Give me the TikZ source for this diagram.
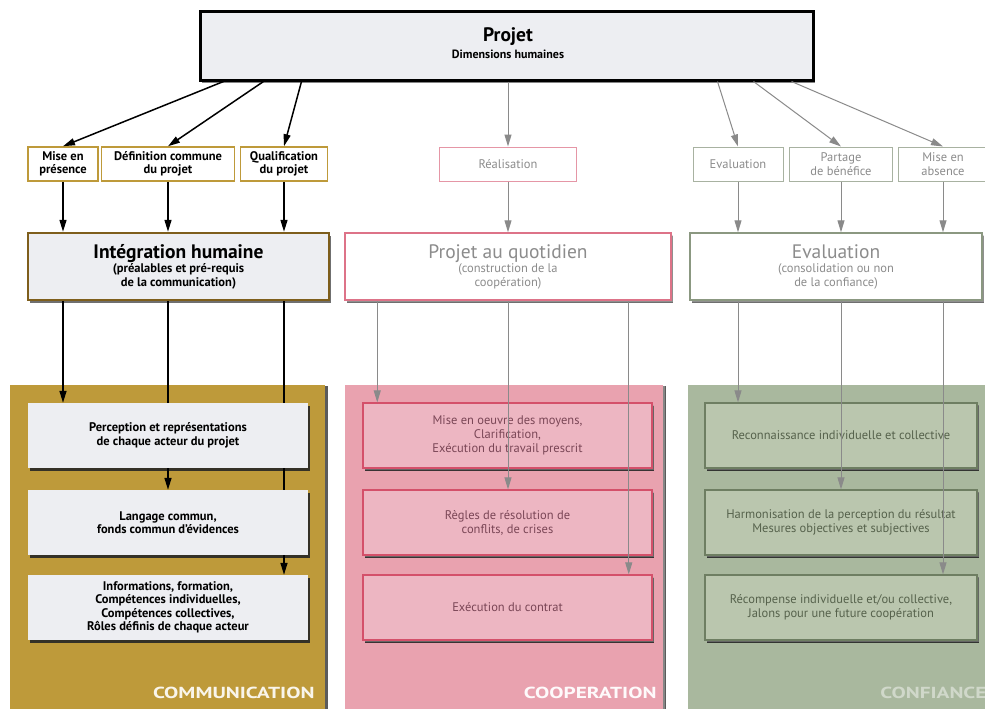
\documentclass[tikz,border=0pt]{standalone}
\usepackage{fontspec}
\setmainfont{PT Sans}
\usetikzlibrary{shadows,arrows.meta}
\definecolor{paper}{HTML}{EDEEF2}
\definecolor{comm}{HTML}{BE9A3A}
\definecolor{commdark}{HTML}{7E5E1C}
\definecolor{coop}{HTML}{E9A2AF}
\definecolor{coopbox}{HTML}{EDB6C2}
\definecolor{coopline}{HTML}{D4506A}
\definecolor{cooptext}{HTML}{7A4656}
\definecolor{conf}{HTML}{A9B89E}
\definecolor{confbox}{HTML}{BAC6AE}
\definecolor{confline}{HTML}{6E7E62}
\definecolor{conftext}{HTML}{56624C}
\definecolor{greytext}{HTML}{8C8C8C}
\definecolor{greyline}{HTML}{8A8A8A}
\tikzset{
  topbox/.style={draw=black, line width=3pt, fill=paper, inner sep=0pt,
    drop shadow={shadow xshift=2pt, shadow yshift=-3pt, fill=black!60, opacity=0.8}},
  smallc/.style={draw=comm, line width=1.5pt, fill=white, inner sep=0pt, align=center,
    minimum height=34pt, font=\bfseries\fontsize{12.5}{13.5}\selectfont},
  smallr/.style={smallc, draw=coopline!60, line width=1pt, text=greytext,
    font=\fontsize{12.5}{13.5}\selectfont},
  smallg/.style={smallr, draw=confline!60},
  bigc/.style={draw=commdark, line width=2.5pt, fill=paper, inner sep=0pt, align=center,
    minimum height=67pt, font=\bfseries\fontsize{12.5}{14}\selectfont,
    drop shadow={shadow xshift=2pt, shadow yshift=-3pt, fill=black!70, opacity=0.8}},
  bigr/.style={bigc, draw=coopline!80, line width=1.5pt, fill=white, text=greytext,
    font=\fontsize{12.5}{14}\selectfont,
    drop shadow={shadow xshift=1.5pt, shadow yshift=-2pt, fill=black!30, opacity=0.5}},
  bigg/.style={bigr, draw=confline!80},
  panelc/.style={fill=comm, inner sep=0pt,
    drop shadow={shadow xshift=3pt, shadow yshift=-1pt, fill=black!80, opacity=0.8}},
  panelr/.style={panelc, fill=coop,
    drop shadow={shadow xshift=2pt, shadow yshift=-1pt, fill=black!30, opacity=0.5}},
  panelg/.style={panelr, fill=conf},
  innerc/.style={fill=paper, inner sep=0pt, align=center, minimum height=65pt,
    font=\bfseries\fontsize{12.5}{13.5}\selectfont,
    drop shadow={shadow xshift=2pt, shadow yshift=-3pt, fill=black!85, opacity=0.9}},
  innerr/.style={innerc, fill=coopbox, draw=coopline, line width=1.2pt, text=cooptext,
    font=\fontsize{12.5}{14}\selectfont,
    drop shadow={shadow xshift=2pt, shadow yshift=-2pt, fill=black!40, opacity=0.5}},
  innerg/.style={innerr, fill=confbox, draw=confline, text=conftext,
    drop shadow={shadow xshift=2pt, shadow yshift=-2pt, fill=black!60, opacity=0.7}},
  paneltext/.style={anchor=base east, font=\bfseries\fontsize{16}{18}\selectfont},
  blackarrow/.style={draw=black, line width=1.5pt, -{Triangle[length=12pt,width=7pt]}},
  greyarrow/.style={draw=greyline, line width=1pt, -{Triangle[length=12pt,width=7pt]}},
  blackline/.style={draw=black, line width=1.5pt}
}
\newcommand{\bigtitle}[1]{{\fontsize{19.5}{20}\selectfont #1}}
\newcommand{\widecaps}[1]{\scalebox{1.33}[1]{#1}}
\begin{document}
\begin{tikzpicture}[x=1pt, y=-1pt]
  \useasboundingbox (0,0) rectangle (985,709);
  \clip (0,0) rectangle (985,709);
  \fill[white] (0,0) rectangle (985,709);

  % top and second rows
  \node[topbox, minimum width=613pt, minimum height=68pt] (projet) at (506.5,46) {};
  \node[font=\bfseries\fontsize{19.5}{20}\selectfont] (projettitle) at (508,37) {Projet};
  \node[font=\bfseries\fontsize{12}{13}\selectfont] (projetsub) at (508,54) {Dimensions humaines};

  \node[smallc, minimum width=70pt] (mise) at (63,164) {Mise en\\présence};
  \node[smallc, minimum width=133pt] (defin) at (168,164) {Définition commune\\du projet};
  \node[smallc, minimum width=87pt] (qualif) at (284,164) {Qualification\\du projet};
  \node[smallr, minimum width=137pt] (realis) at (508,164) {Réalisation};
  \node[smallg, minimum width=90pt] (evalp) at (738,164) {Evaluation};
  \node[smallg, minimum width=103pt] (partage) at (841,164) {Partage\\de bénéfice};
  \node[smallg, minimum width=90pt] (absence) at (943,164) {Mise en\\absence};

  \node[bigc, minimum width=301pt] (integ) at (178.5,266.5)
    {\bigtitle{Intégration humaine}\\(préalables et pré-requis\\de la communication)};
  \node[bigr, minimum width=326pt] (quot) at (508,266.5)
    {\bigtitle{Projet au quotidien}\\(construction de la\\coopération)};
  \node[bigg, minimum width=292pt] (evalg) at (836,266.5)
    {\bigtitle{Evaluation}\\(consolidation ou non\\de la confiance)};

  % arrows from the project
  \draw[blackarrow] ([xshift=25pt]projet.south west) -- (mise.north);
  \draw[blackarrow] ([xshift=65pt]projet.south west) -- (defin.north);
  \draw[blackarrow] ([xshift=103pt]projet.south west) -- (qualif.north);
  \draw[greyarrow] (projet.south -| realis) -- (realis.north);
  \draw[greyarrow] ([xshift=-97pt]projet.south east) -- (evalp.north);
  \draw[greyarrow] ([xshift=-61pt]projet.south east) -- (partage.north);
  \draw[greyarrow] ([xshift=-23pt]projet.south east) -- (absence.north);

  \draw[blackarrow] (mise) -- (integ.north -| mise);
  \draw[blackarrow] (defin) -- (integ.north -| defin);
  \draw[blackarrow] (qualif) -- (integ.north -| qualif);
  \draw[greyarrow] (realis) -- (quot.north -| realis);
  \draw[greyarrow] (evalp) -- (evalg.north -| evalp);
  \draw[greyarrow] (partage) -- (evalg.north -| partage);
  \draw[greyarrow] (absence) -- (evalg.north -| absence);

  % panels
  \node[panelc, minimum width=315pt, minimum height=330pt] (commp) at (167.5,550) {};
  \node[panelr, minimum width=318pt, minimum height=330pt] (coopp) at (504,550) {};
  \node[panelg, minimum width=305pt, minimum height=330pt] (confp) at (840.5,550) {};
  \node[paneltext, text=white!90!comm] (commlab) at (318,698) {\widecaps{COMMUNICATION}};
  \node[paneltext, text=white!95!coop] (cooplab) at (660,698) {\widecaps{COOPERATION}};
  \node[paneltext, text=white!45!conf] (conflab) at (990,698) {\widecaps{CONFIANCE}};

  % communication: lines behind the boxes
  \coordinate (c1) at (mise |- integ.south);
  \coordinate (c2) at (defin |- integ.south);
  \coordinate (c3) at (qualif |- integ.south);
  \node[innerc, minimum width=280pt] (ca) at (168,435.5)
    {Perception et représentations\\de chaque acteur du projet};
  \node[innerc, minimum width=280pt] (cb) at (168,522.5)
    {Langage commun,\\fonds commun d'évidences};
  \node[innerc, minimum width=280pt] (cc) at (168,607.5)
    {Informations, formation,\\Compétences individuelles,\\Compétences collectives,\\Rôles définis de chaque acteur};
  \draw[blackarrow] (c1) -- (c1 |- ca.north);
  \draw[blackline] (c2) -- (c2 |- ca.north);
  \draw[blackarrow] (c2 |- ca.south) -- (c2 |- cb.north);
  \draw[blackline] (c3) -- (c3 |- ca.north);
  \draw[blackline] (c3 |- ca.south) -- (c3 |- cb.north);
  \draw[blackarrow] (c3 |- cb.south) -- (c3 |- cc.north);

  % cooperation
  \node[innerr, minimum width=289pt] (ra) at (507.5,435.5)
    {Mise en oeuvre des moyens,\\Clarification,\\Exécution du travail prescrit};
  \node[innerr, minimum width=289pt] (rb) at (507.5,522.5)
    {Règles de résolution de\\conflits, de crises};
  \node[innerr, minimum width=289pt] (rc) at (507.5,607.5)
    {Exécution du contrat};
  \draw[greyarrow] ([xshift=33pt]quot.south west) coordinate (r1) -- (r1 |- ra.north);
  \draw[greyarrow] (quot.south -| realis) coordinate (r2) -- (r2 |- rb.north);
  \draw[greyarrow] ([xshift=-43pt]quot.south east) coordinate (r3) -- (r3 |- rc.north);

  % confiance
  \node[innerg, minimum width=272pt] (ga) at (841,435.5)
    {Reconnaissance individuelle et collective};
  \node[innerg, minimum width=272pt] (gb) at (841,522.5)
    {Harmonisation de la perception du résultat\\Mesures objectives et subjectives};
  \node[innerg, minimum width=272pt] (gc) at (841,607.5)
    {Récompense individuelle et/ou collective,\\Jalons pour une future coopération};
  \draw[greyarrow] (evalg.south -| evalp) coordinate (g1) -- (g1 |- ga.north);
  \draw[greyarrow] (evalg.south -| partage) coordinate (g2) -- (g2 |- gb.north);
  \draw[greyarrow] (evalg.south -| absence) coordinate (g3) -- (g3 |- gc.north);
\end{tikzpicture}
\end{document}
